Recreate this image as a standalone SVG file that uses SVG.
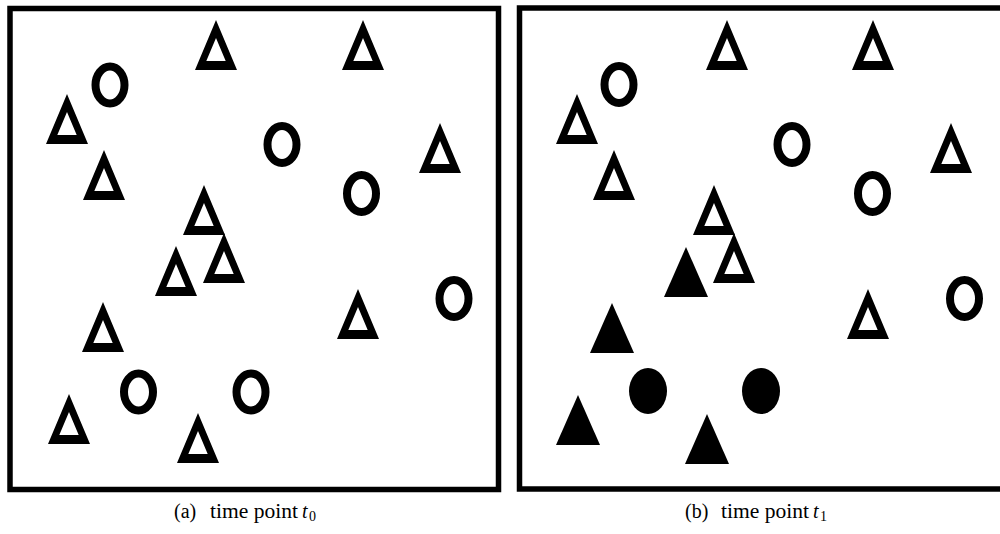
<svg xmlns="http://www.w3.org/2000/svg" xmlns:xlink="http://www.w3.org/1999/xlink" width="1000" height="534" viewBox="0 0 1000 534">
<style>
.frame{fill:none;stroke:#000;stroke-width:5.5}
.ring{fill:none;stroke:#000;stroke-width:8}
.dot{fill:#000;stroke:none}
.cap{font-family:"Liberation Serif","DejaVu Serif",serif;font-size:20px;fill:#000}
.it{font-style:italic}
.sub{font-size:14px}
</style>
<defs>
<path id="tri" d="M0,0 L-21,50 L21,50 Z M0,18 L9.7,41 L-9.7,41 Z" fill="#000" fill-rule="evenodd"/>
<path id="trif" d="M0,0 L-22,50 L22,50 Z" fill="#000"/>
</defs>
<rect width="1000" height="534" fill="#fff"/>
<g id="panel-a">
<rect id="frame-a" class="frame" x="10" y="8.5" width="488.5" height="481"/>
<g id="a-t1"><use xlink:href="#tri" x="216" y="20"/></g>
<g id="a-t2"><use xlink:href="#tri" x="363" y="20"/></g>
<g id="a-t3"><use xlink:href="#tri" x="67" y="94"/></g>
<g id="a-t4"><use xlink:href="#tri" x="104" y="150"/></g>
<g id="a-t5"><use xlink:href="#tri" x="204" y="185"/></g>
<g id="a-t6"><use xlink:href="#tri" x="440" y="123"/></g>
<g id="a-t7"><use xlink:href="#tri" x="176" y="246"/></g>
<g id="a-t8"><use xlink:href="#tri" x="224" y="233"/></g>
<g id="a-t9"><use xlink:href="#tri" x="103" y="302"/></g>
<g id="a-t10"><use xlink:href="#tri" x="69" y="394"/></g>
<g id="a-t11"><use xlink:href="#tri" x="198" y="413"/></g>
<g id="a-t12"><use xlink:href="#tri" x="358" y="289"/></g>
<g id="a-c1"><ellipse class="ring" cx="110" cy="85" rx="14.5" ry="18.5"/></g>
<g id="a-c2"><ellipse class="ring" cx="282" cy="144.5" rx="14.5" ry="18.5"/></g>
<g id="a-c3"><ellipse class="ring" cx="361.5" cy="193.5" rx="14.5" ry="18.5"/></g>
<g id="a-c4"><ellipse class="ring" cx="454" cy="298.5" rx="14.5" ry="18.5"/></g>
<g id="a-c5"><ellipse class="ring" cx="138.5" cy="392" rx="14.5" ry="18.5"/></g>
<g id="a-c6"><ellipse class="ring" cx="251" cy="392" rx="14.5" ry="18.5"/></g>
</g>
<g id="panel-b">
<rect id="frame-b" class="frame" x="519.5" y="8" width="490" height="481"/>
<g id="b-t1"><use xlink:href="#tri" x="727" y="20"/></g>
<g id="b-t2"><use xlink:href="#tri" x="873" y="20"/></g>
<g id="b-t3"><use xlink:href="#tri" x="577" y="94"/></g>
<g id="b-t4"><use xlink:href="#tri" x="614" y="150"/></g>
<g id="b-t5"><use xlink:href="#tri" x="714" y="185"/></g>
<g id="b-t6"><use xlink:href="#tri" x="951" y="123"/></g>
<g id="b-t7"><use xlink:href="#trif" x="686" y="247"/></g>
<g id="b-t8"><use xlink:href="#tri" x="734" y="233"/></g>
<g id="b-t9"><use xlink:href="#trif" x="612" y="303"/></g>
<g id="b-t10"><use xlink:href="#trif" x="578" y="395"/></g>
<g id="b-t11"><use xlink:href="#trif" x="707" y="414"/></g>
<g id="b-t12"><use xlink:href="#tri" x="868" y="289"/></g>
<g id="b-c1"><ellipse class="ring" cx="619" cy="84.5" rx="14.5" ry="18.5"/></g>
<g id="b-c2"><ellipse class="ring" cx="792" cy="144.5" rx="14.5" ry="18.5"/></g>
<g id="b-c3"><ellipse class="ring" cx="872.5" cy="193.5" rx="14.5" ry="18.5"/></g>
<g id="b-c4"><ellipse class="ring" cx="964.5" cy="298.5" rx="14.5" ry="18.5"/></g>
<g id="b-c5"><ellipse class="dot" cx="648" cy="391" rx="19" ry="23"/></g>
<g id="b-c6"><ellipse class="dot" cx="761" cy="391" rx="19" ry="23"/></g>
</g>
<g id="connectors"/>
<g id="captions">
<text class="cap" y="518"><tspan x="174">(a)</tspan><tspan x="210" textLength="88" lengthAdjust="spacingAndGlyphs">time point</tspan><tspan x="302" class="it">t</tspan><tspan x="309" dy="3" class="sub">0</tspan></text>
<text class="cap" y="518"><tspan x="685">(b)</tspan><tspan x="721" textLength="88" lengthAdjust="spacingAndGlyphs">time point</tspan><tspan x="813" class="it">t</tspan><tspan x="820" dy="3" class="sub">1</tspan></text>
</g>
</svg>
